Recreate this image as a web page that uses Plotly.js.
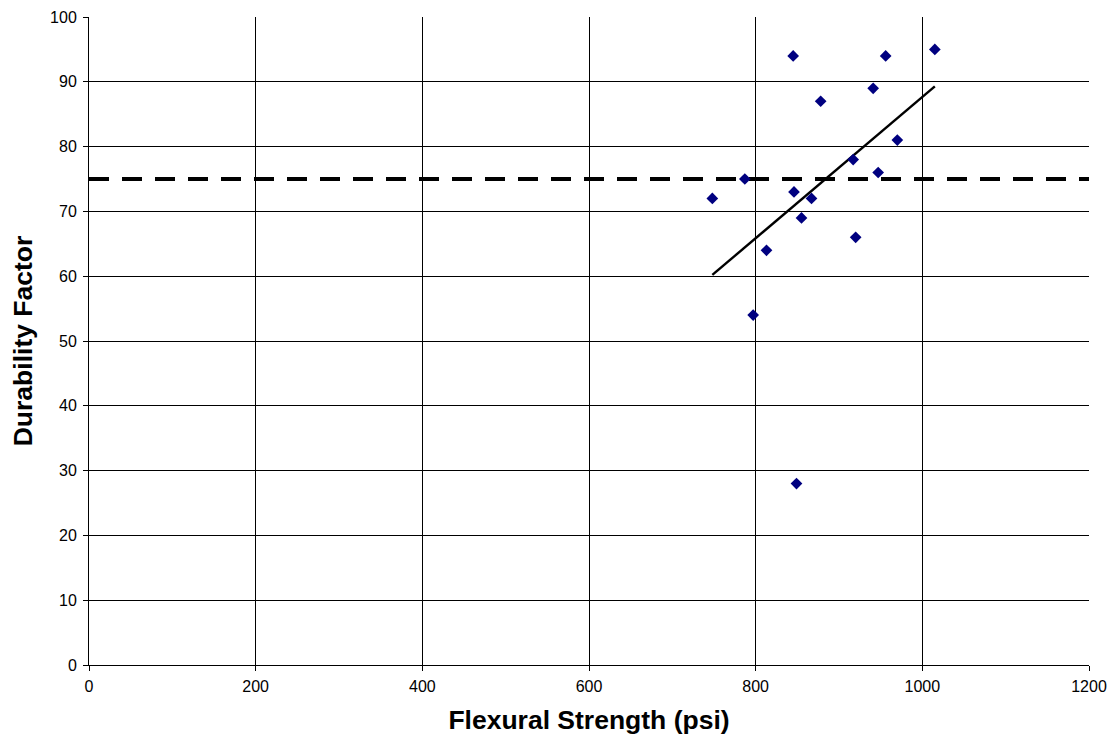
<!DOCTYPE html>
<html>
<head>
<meta charset="utf-8">
<script src="https://cdn.plot.ly/plotly-3.0.1.min.js"></script>
<style>html,body{margin:0;padding:0;background:#fff;}#chart{width:1116px;height:746px;}</style>
</head>
<body>
<div id="chart"></div>
<script>
const flexuralStrength = [748, 787, 845, 956, 1015, 941, 878, 970, 917, 947, 846, 867, 855, 920, 813, 797, 849];
const durabilityFactor = [72, 75, 94, 94, 95, 89, 87, 81, 78, 76, 73, 72, 69, 66, 64, 54, 28];
const thresholdValue = 75;
const xRange = [0, 1200];
const yRange = [0, 100];

// least-squares trend line computed from the data
const n = flexuralStrength.length;
const mx = flexuralStrength.reduce((a, b) => a + b, 0) / n;
const my = durabilityFactor.reduce((a, b) => a + b, 0) / n;
let sxy = 0, sxx = 0;
for (let i = 0; i < n; i++) {
  sxy += (flexuralStrength[i] - mx) * (durabilityFactor[i] - my);
  sxx += (flexuralStrength[i] - mx) ** 2;
}
const slope = sxy / sxx;
const intercept = my - slope * mx;
const xmin = Math.min(...flexuralStrength), xmax = Math.max(...flexuralStrength);
const trendX = [xmin, xmax];
const trendY = trendX.map(x => intercept + slope * x);

const data = [
  {
    x: xRange, y: [thresholdValue, thresholdValue], mode: 'lines', type: 'scatter',
    line: {color: '#000', width: 4, dash: '20px,13px'}, hoverinfo: 'skip', showlegend: false
  },
  {
    x: trendX, y: trendY, mode: 'lines', type: 'scatter',
    line: {color: '#000', width: 2.4}, showlegend: false
  },
  {
    x: flexuralStrength, y: durabilityFactor, mode: 'markers', type: 'scatter',
    marker: {symbol: 'diamond', size: 9, color: '#000080'}, showlegend: false
  }
];

const titleFont = {size: 26.5, family: 'Liberation Sans, Arial, sans-serif', weight: 'bold', color: '#000'};

const layout = {
  width: 1116, height: 746,
  margin: {l: 89, r: 27, t: 17, b: 81},
  paper_bgcolor: '#fff', plot_bgcolor: '#fff',
  font: {family: 'Liberation Sans, Arial, sans-serif', color: '#000', size: 16},
  showlegend: false,
  xaxis: {
    range: xRange, dtick: 200, tick0: 0,
    showgrid: true, gridcolor: '#000', gridwidth: 1,
    zeroline: false, showline: true, linecolor: '#000', linewidth: 1,
    ticks: 'outside', ticklen: 5, tickcolor: '#000',
    tickfont: {size: 16}, ticklabelstandoff: 2,
    automargin: false,
    title: {text: 'Flexural Strength (psi)', font: titleFont, standoff: 16}
  },
  yaxis: {
    range: yRange, dtick: 10, tick0: 0,
    showgrid: true, gridcolor: '#000', gridwidth: 1,
    zeroline: false, showline: true, linecolor: '#000', linewidth: 1,
    ticks: 'outside', ticklen: 5, tickcolor: '#000',
    tickfont: {size: 16}, ticklabelstandoff: 3,
    automargin: false,
    title: {text: 'Durability Factor', font: titleFont, standoff: 9}
  }
};

Plotly.newPlot('chart', data, layout, {displayModeBar: false, staticPlot: true});
</script>
</body>
</html>
